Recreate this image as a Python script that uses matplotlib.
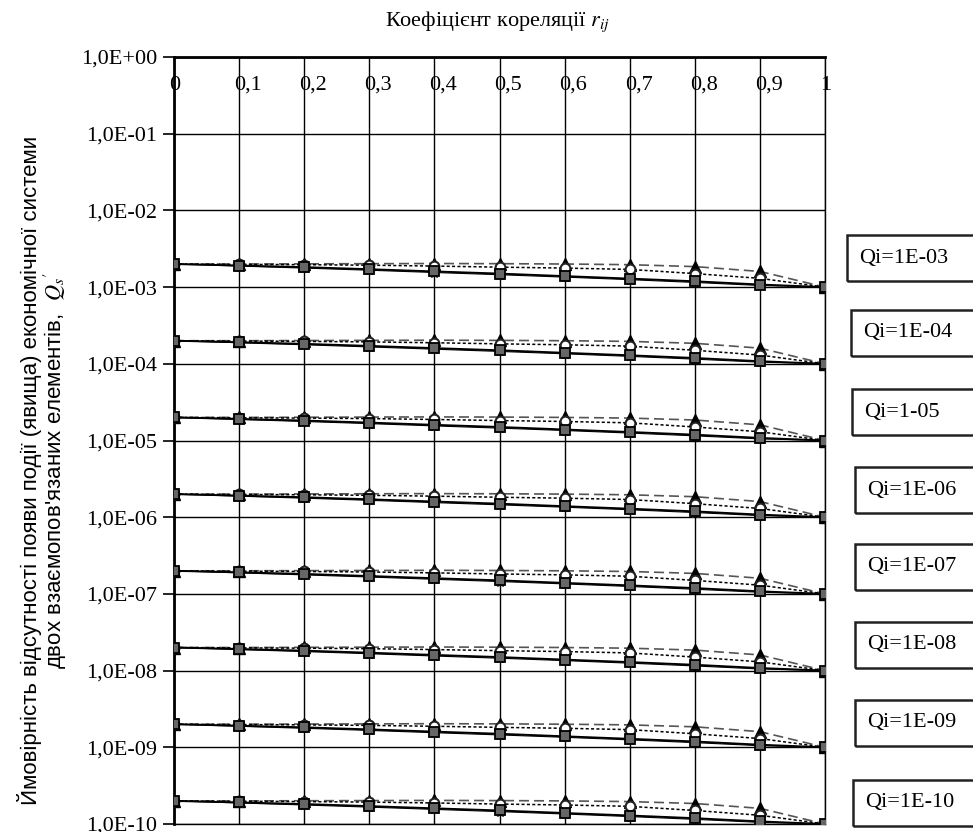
import numpy as np
import matplotlib
matplotlib.use('Agg')
import matplotlib.pyplot as plt
from matplotlib.patches import Rectangle
import matplotlib.transforms as mtransforms

plt.rcParams['font.family'] = ['Liberation Serif', 'DejaVu Serif']
plt.rcParams['mathtext.fontset'] = 'stix'

# correlation coefficient r_ij
r_values = [0.0, 0.1, 0.2, 0.3, 0.4, 0.5, 0.6, 0.7, 0.8, 0.9, 1.0]
r_labels = ['0', '0,1', '0,2', '0,3', '0,4', '0,5', '0,6', '0,7', '0,8', '0,9', '1']

# element failure probabilities Qi (one group of curves each)
qi_values = [1e-3, 1e-4, 1e-5, 1e-6, 1e-7, 1e-8, 1e-9, 1e-10]
qi_labels = ['Qi=1E-03', 'Qi=1E-04', 'Qi=1-05', 'Qi=1E-06',
             'Qi=1E-07', 'Qi=1E-08', 'Qi=1E-09', 'Qi=1E-10']

# Qs' / Qi, same for every group
ratio_square = [2.0, 1.91, 1.82, 1.71, 1.60, 1.50, 1.39, 1.29, 1.19, 1.08, 1.0]
ratio_star = [2.0, 1.88, 1.77, 1.66, 1.55, 1.45, 1.35, 1.25, 1.15, 1.05, 1.0]
ratio_circle = [2.0, 1.98, 1.96, 1.93, 1.88, 1.82, 1.77, 1.70, 1.50, 1.30, 1.0]
ratio_triangle = [2.0, 2.0, 2.01, 2.02, 2.03, 2.02, 2.0, 1.96, 1.85, 1.60, 1.0]

y_ticks = [10.0 ** -k for k in range(0, 11)]
y_labels = ['1,0E+00'] + ['1,0E-%02d' % k for k in range(1, 11)]

W, H = 973, 832
fig = plt.figure(figsize=(W / 100, H / 100), dpi=100)
ax = fig.add_axes([174 / W, 1 - 824 / H, (825 - 174) / W, (824 - 57) / H])

ax.set_yscale('log')
ax.set_xlim(0, 1)
ax.set_ylim(1e-10, 1)

for q in qi_values:
    ax.plot(r_values, [q * v for v in ratio_triangle], color='#555555', lw=1.2,
            ls=(0, (6, 3)), marker='^', ms=8, mfc='black', mec='black', zorder=3)
    ax.plot(r_values, [q * v for v in ratio_circle], color='black', lw=1.1,
            ls=(0, (2, 1.5)), marker='o', ms=7, mfc='white', mec='#222222',
            mew=1.5, zorder=4)
    ax.plot(r_values, [q * v for v in ratio_star], color='black', lw=0.8,
            marker='*', ms=8, mfc='#333333', mec='#333333', zorder=4)
    ax.plot(r_values, [q * v for v in ratio_square], color='black', lw=1.4,
            marker='s', ms=7, mfc='#666666', mec='black', mew=1.3, zorder=5)

# grid
ax.set_xticks(r_values)
ax.set_yticks(y_ticks)
ax.minorticks_off()
ax.grid(True, which='major', color='black', lw=1.0)
ax.set_axisbelow(True)

ax.set_yticklabels(y_labels, fontsize=16)
ax.tick_params(axis='y', direction='out', length=8, width=1.2, pad=4)

ax.xaxis.tick_top()
ax.set_xticklabels(r_labels, fontsize=16)
ax.tick_params(axis='x', top=True, bottom=False, length=0, pad=-27)
offset = mtransforms.ScaledTranslation(-5 / 100, 0, fig.dpi_scale_trans)
for lbl in ax.get_xticklabels():
    lbl.set_horizontalalignment('left')
    lbl.set_transform(lbl.get_transform() + offset)

for side in ['left', 'top']:
    ax.spines[side].set_linewidth(2.0)
for side in ['right', 'bottom']:
    ax.spines[side].set_linewidth(1.0)

fig.text(497 / W, 1 - 22 / H, 'Коефіцієнт кореляції $r_{ij}$', ha='center', va='center',
         fontsize=16)

fig.text(30 / W, 1 - 470 / H,
         'Ймовірність відсутності появи події (явища) економічної системи',
         rotation=90, ha='center', va='center', fontsize=16,
         family=['Liberation Sans Narrow', 'Liberation Sans', 'DejaVu Sans'])
fig.text(55 / W, 1 - 470 / H,
         "двох взаємопов'язаних елементів,  $Q_s{}'$",
         rotation=90, ha='center', va='center', fontsize=16,
         family=['Liberation Sans Narrow', 'Liberation Sans', 'DejaVu Sans'])

# Qi boxes on the right
box_centers = [258, 333, 412, 490, 567, 645, 723, 803]
box_lefts = [847, 851, 852, 855, 855, 855, 855, 853]
for lab, yc, xl in zip(qi_labels, box_centers, box_lefts):
    fig.patches.append(Rectangle((xl / W, 1 - (yc + 23) / H), (W + 20 - xl) / W, 46 / H,
                                 transform=fig.transFigure, fill=False,
                                 edgecolor='#222222', lw=1.8))
    fig.text((xl + 12) / W, 1 - yc / H, lab, ha='left', va='center', fontsize=16)

fig.savefig('out.png', dpi=100)
